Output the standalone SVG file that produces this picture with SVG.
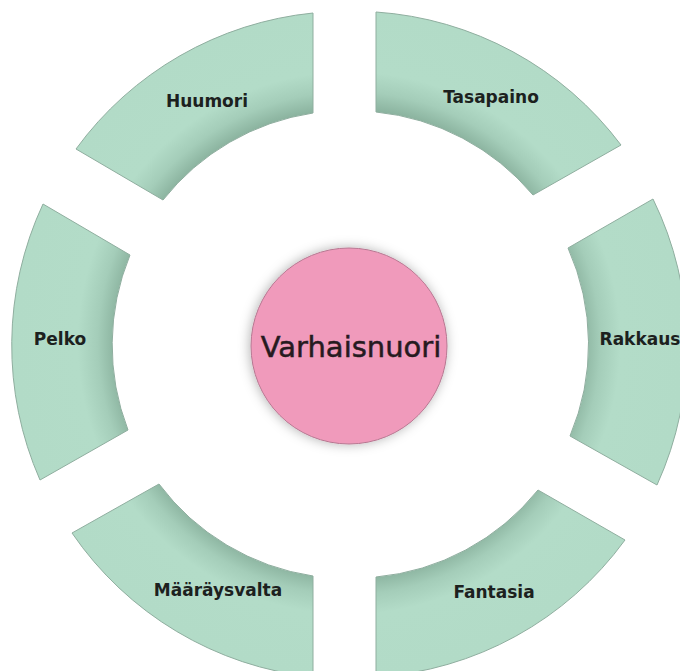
<svg xmlns="http://www.w3.org/2000/svg" width="680" height="671" viewBox="0 0 680 671">
  <style>
    .seg { fill: url(#ringShade); stroke: #8fae9f; stroke-width: 1; }
    .label { font-family: "DejaVu Sans", "Liberation Sans", sans-serif; font-weight: bold; font-size: 17px; fill: #1c211e; text-anchor: middle; }
    .hub { fill: #f09abb; stroke: #b77791; stroke-width: 1; filter: url(#hubShadow); }
    .hubText { font-family: "DejaVu Sans", "Liberation Sans", sans-serif; font-size: 29px; fill: #261a1f; stroke: #261a1f; stroke-width: 0.5; text-anchor: middle; }
  </style>
  <defs>
    <!-- darker band along the inner rim of the ring -->
    <radialGradient id="ringShade" gradientUnits="userSpaceOnUse" cx="349" cy="343" r="335">
      <stop offset="0.69" stop-color="#88b09c"/>
      <stop offset="0.75" stop-color="#a4cdb9"/>
      <stop offset="0.81" stop-color="#b3dcc8"/>
      <stop offset="1" stop-color="#b2dbc7"/>
    </radialGradient>
    <filter id="hubShadow" x="-20%" y="-20%" width="140%" height="140%">
      <feGaussianBlur in="SourceAlpha" stdDeviation="6"/>
      <feOffset dx="-1" dy="0" result="blur"/>
      <feFlood flood-color="#000" flood-opacity="0.3"/>
      <feComposite in2="blur" operator="in"/>
      <feMerge>
        <feMergeNode/>
        <feMergeNode in="SourceGraphic"/>
      </feMerge>
    </filter>
  </defs>

  <rect width="680" height="671" fill="#ffffff"/>

  <g id="huumori">
    <path class="seg" d="M76,149 A335,335 0 0 1 313,13 L313,113 A236,236 0 0 0 163,200 Z"/>
    <text class="label" x="207" y="107">Huumori</text>
  </g>
  <g id="tasapaino">
    <path class="seg" d="M376,12 A335,335 0 0 1 621,145 L533,195 A236,236 0 0 0 376,112 Z"/>
    <text class="label" x="491" y="103">Tasapaino</text>
  </g>
  <g id="rakkaus">
    <path class="seg" d="M653,199 A335,335 0 0 1 657,485 L570,436 A236,236 0 0 0 568,248 Z"/>
    <text class="label" x="640" y="345">Rakkaus</text>
  </g>
  <g id="fantasia">
    <path class="seg" d="M625,540 A335,335 0 0 1 376,677 L376,577 A236,236 0 0 0 538,490 Z"/>
    <text class="label" x="494" y="598">Fantasia</text>
  </g>
  <g id="maaraysvalta">
    <path class="seg" d="M313,677 A335,335 0 0 1 72,533 L159,484 A236,236 0 0 0 313,576 Z"/>
    <text class="label" x="218" y="596">Määräysvalta</text>
  </g>
  <g id="pelko">
    <path class="seg" d="M40,480 A335,335 0 0 1 43,204 L130,255 A236,236 0 0 0 128,430 Z"/>
    <text class="label" x="60" y="345">Pelko</text>
  </g>

  <g id="varhaisnuori">
    <circle class="hub" cx="349" cy="346" r="98"/>
    <text class="hubText" x="351" y="357">Varhaisnuori</text>
  </g>

  <g id="connectors"></g>
</svg>
